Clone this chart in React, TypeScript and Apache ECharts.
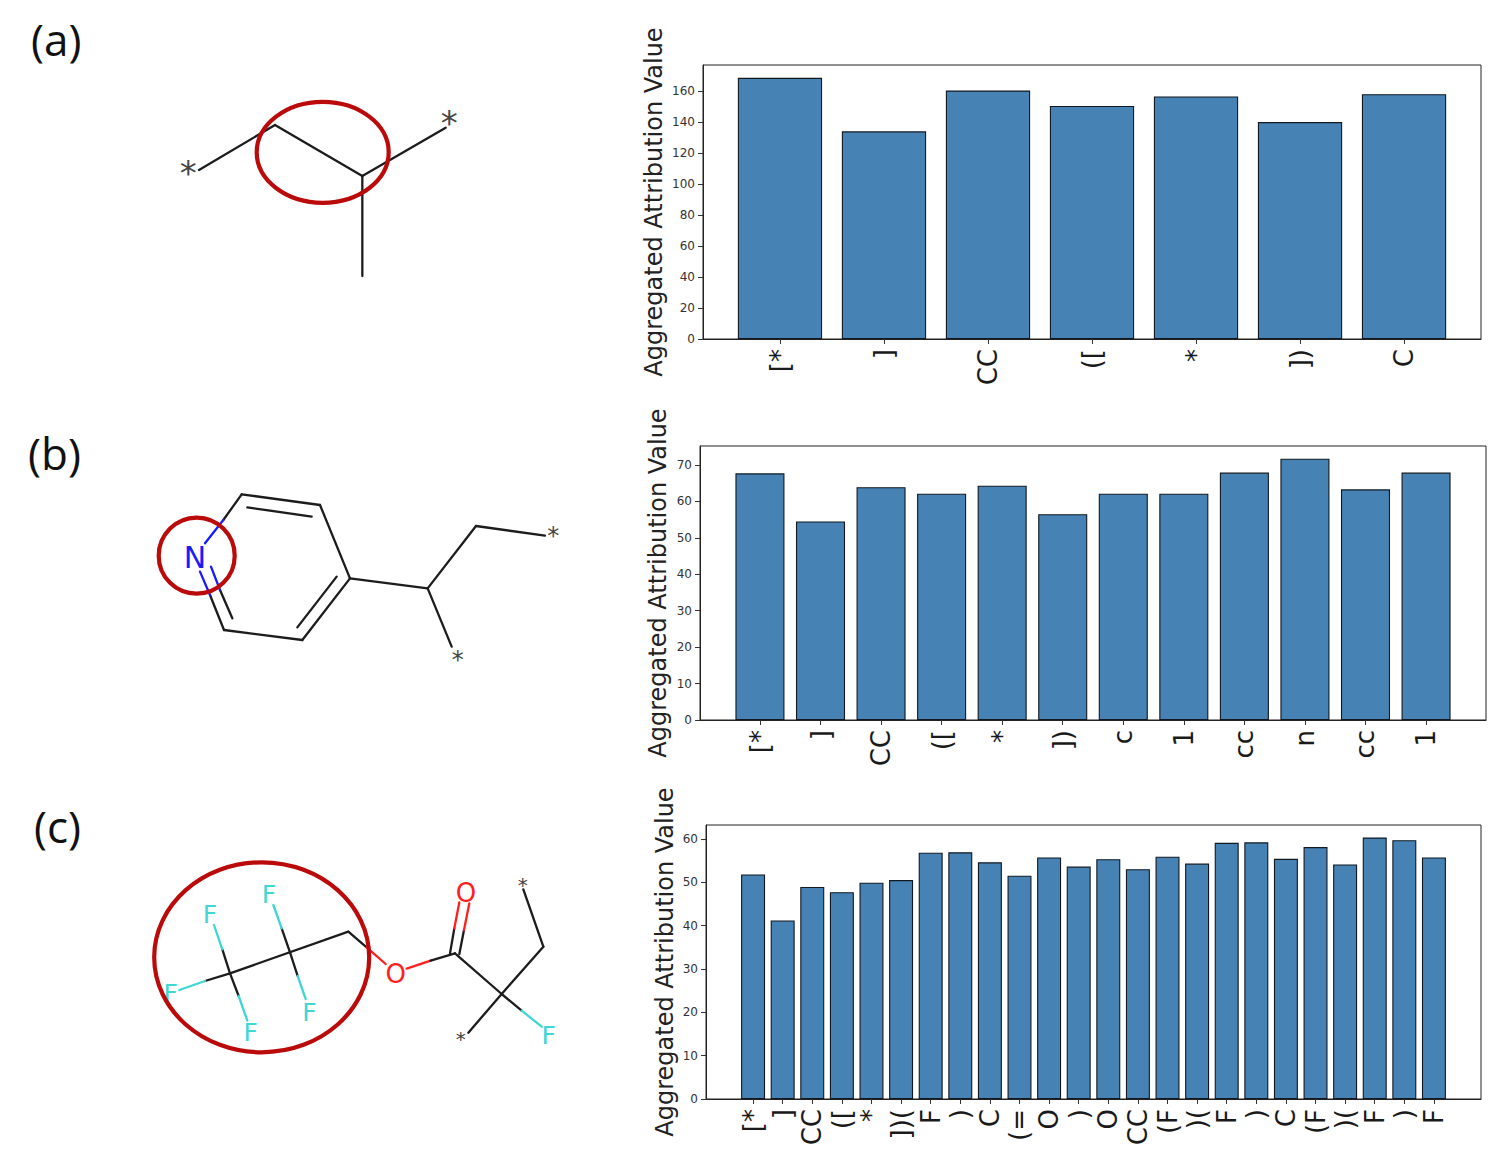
import React, { useEffect, useRef } from "react";
import * as echarts from "echarts";

const AXIS_TITLE = "Aggregated Attribution Value";

const categoriesA = ["[*", "]", "CC", "([", "*", "])", "C"];
const valuesA = [168.5, 134, 160.3, 150.4, 156.5, 140, 158];
const ticksA = [0, 20, 40, 60, 80, 100, 120, 140, 160];

const categoriesB = ["[*", "]", "CC", "([", "*", "])", "c", "1", "cc", "n", "cc", "1"];
const valuesB = [67.7, 54.5, 63.9, 62.1, 64.3, 56.5, 62.1, 62.1, 67.9, 71.7, 63.3, 67.9];
const ticksB = [0, 10, 20, 30, 40, 50, 60, 70];

const categoriesC = ["[*", "]", "CC", "([", "*", "])(", "F", ")", "C", "(=", "O", ")", "O", "CC", "(F", ")(", "F", ")", "C", "(F", ")(", "F", ")", "F"];
const valuesC = [51.8, 41.2, 48.9, 47.7, 49.9, 50.5, 56.8, 56.9, 54.6, 51.5, 55.7, 53.6, 55.3, 53, 55.9, 54.3, 59.1, 59.2, 55.4, 58.1, 54.1, 60.3, 59.7, 55.7];
const ticksC = [0, 10, 20, 30, 40, 50, 60];

const INK = "#1c1c1c";
const CYAN = "#3fd6d6";
const RED = "#ff1f1f";
const BLUE = "#1a1aff";
const RING = "#bb0a0a";
const STAR = "#444444";

type Bond = [number, number, number, number, string?];
type Atom = [string, number, number, string, number];

// Molecule drawings, in units of a third of a pixel from each drawing's corner
const bondsA: Bond[] = [
  [117, 240, 345, 105], [345, 105, 607, 258], [607, 258, 857, 113], [607, 258, 607, 558],
];
const atomsA: Atom[] = [["*", 85, 250, STAR, 34], ["*", 868, 100, STAR, 34]];

const bondsB: Bond[] = [
  [305, 73, 540, 105], [540, 105, 630, 325], [630, 325, 487, 510], [487, 510, 252, 480],
  [305, 73, 250, 150], [250, 150, 195, 220, BLUE],
  [322, 112, 515, 140], [590, 320, 472, 472],
  [252, 480, 210, 375], [210, 375, 180, 305, BLUE],
  [277, 445, 240, 360], [240, 360, 213, 290, BLUE],
  [630, 325, 863, 355], [863, 355, 1008, 168], [1008, 168, 1215, 197], [863, 355, 935, 530],
];
const atomsB: Atom[] = [
  ["N", 165, 262, BLUE, 30], ["*", 1240, 197, STAR, 24], ["*", 953, 570, STAR, 24],
];

const bondsC: Bond[] = [
  [625, 245, 270, 370],
  [270, 370, 195, 393], [195, 393, 118, 420, CYAN],
  [270, 370, 247, 298], [247, 298, 222, 225, CYAN],
  [270, 370, 296, 438], [296, 438, 322, 512, CYAN],
  [450, 307, 425, 235], [425, 235, 400, 165, CYAN],
  [450, 307, 473, 378], [473, 378, 497, 447, CYAN],
  [625, 245, 680, 292], [680, 292, 737, 342, RED],
  [800, 356, 872, 332, RED], [872, 332, 945, 310],
  [930, 310, 943, 235], [943, 235, 958, 157, RED],
  [958, 312, 972, 240], [972, 240, 988, 160, RED],
  [945, 310, 1085, 432], [1085, 432, 985, 548],
  [1085, 432, 1145, 482], [1145, 482, 1205, 530, CYAN],
  [1085, 432, 1210, 290], [1210, 290, 1150, 118],
];
const atomsC: Atom[] = [
  ["F", 92, 431, CYAN, 25], ["F", 210, 193, CYAN, 25], ["F", 332, 548, CYAN, 25],
  ["F", 387, 133, CYAN, 25], ["F", 508, 486, CYAN, 25], ["F", 1226, 555, CYAN, 25],
  ["O", 767, 372, RED, 26], ["O", 978, 129, RED, 26],
  ["*", 962, 568, STAR, 20], ["*", 1148, 104, STAR, 20],
];

function molecule(ox: number, oy: number, bonds: Bond[], atoms: Atom[]) {
  const out: any[] = [];
  for (const [x1, y1, x2, y2, color] of bonds) {
    out.push({
      type: "line",
      silent: true,
      shape: { x1: ox + x1 / 3, y1: oy + y1 / 3, x2: ox + x2 / 3, y2: oy + y2 / 3 },
      style: { stroke: color || INK, lineWidth: 2.3, lineCap: "round" },
    });
  }
  for (const [t, x, y, color, size] of atoms) {
    out.push({
      type: "text",
      silent: true,
      style: {
        text: t, x: ox + x / 3, y: oy + y / 3, fill: color,
        font: `${size}px "DejaVu Sans"`, align: "center", verticalAlign: "middle",
      },
    });
  }
  return out;
}

function ring(cx: number, cy: number, rx: number, ry: number) {
  return {
    type: "ellipse",
    silent: true,
    shape: { cx, cy, rx, ry },
    style: { fill: "transparent", stroke: RING, lineWidth: 4.2 },
  };
}

function panelLabel(text: string, x: number, y: number) {
  return {
    type: "text",
    silent: true,
    style: { text, x, y, fill: "#111", font: '44px "Open Sans"', align: "left", verticalAlign: "middle" },
  };
}

function axes(i: number, cats: string[], ticks: number[], xMin: number, xMax: number, yMax: number, nameGap: number) {
  const positions = cats.map((_, k) => k);
  const x = {
    gridIndex: i, type: "value", min: xMin, max: xMax,
    splitLine: { show: false },
    axisLine: { show: true, onZero: false, lineStyle: { color: "#222", width: 1 } },
    axisTick: { show: true, customValues: positions, length: 5, lineStyle: { color: "#333" } },
    axisLabel: {
      customValues: positions, rotate: 90, margin: 10, fontSize: 26, color: "#1a1a1a",
      fontFamily: "DejaVu Sans", hideOverlap: false, showMinLabel: true, showMaxLabel: true,
      formatter: (v: number) => cats[v],
    },
  };
  const y = {
    gridIndex: i, type: "value", min: 0, max: yMax,
    name: AXIS_TITLE, nameLocation: "middle", nameRotate: 90, nameGap, nameMoveOverlap: false,
    nameTextStyle: { fontSize: 24, color: "#222", fontFamily: "DejaVu Sans" },
    splitLine: { show: false },
    axisLine: { show: true, onZero: false, lineStyle: { color: "#222", width: 1 } },
    axisTick: { show: true, customValues: ticks, length: 5, lineStyle: { color: "#333" } },
    axisLabel: { customValues: ticks, margin: 8, fontSize: 12, color: "#333", fontFamily: "DejaVu Sans", showMinLabel: true, showMaxLabel: true },
  };
  return { x, y };
}

function bars(i: number, values: number[]) {
  return {
    type: "bar", xAxisIndex: i, yAxisIndex: i, barWidth: "81%",
    data: values.map((v, k) => [k, v]),
    itemStyle: { color: "#4682b4", borderColor: "#111820", borderWidth: 1.1 },
  };
}

export default function App() {
  const ref = useRef<HTMLDivElement>(null);
  useEffect(() => {
    document.body.style.margin = "0";
    const chart = echarts.init(ref.current!, null, { renderer: "svg" });
    const a = axes(0, categoriesA, ticksA, -0.74, 6.74, 176.8, 37);
    const b = axes(1, categoriesB, ticksB, -0.99, 11.99, 75.2, 30);
    const c = axes(2, categoriesC, ticksC, -1.59, 24.59, 63.2, 29);
    chart.setOption({
      animation: false,
      backgroundColor: "#fff",
      grid: [
        { left: 703, top: 65, width: 778, height: 274, show: true, borderColor: "#222", borderWidth: 1, backgroundColor: "#fff" },
        { left: 700, top: 446, width: 786, height: 274, show: true, borderColor: "#222", borderWidth: 1, backgroundColor: "#fff" },
        { left: 706, top: 825, width: 775, height: 274, show: true, borderColor: "#222", borderWidth: 1, backgroundColor: "#fff" },
      ],
      xAxis: [a.x, b.x, c.x],
      yAxis: [a.y, b.y, c.y],
      series: [bars(0, valuesA), bars(1, valuesB), bars(2, valuesC)],
      graphic: [
        panelLabel("(a)", 31, 39),
        panelLabel("(b)", 28, 453),
        panelLabel("(c)", 34, 826),
        ...molecule(160, 90, bondsA, atomsA),
        ring(322.7, 152.3, 66, 50.5),
        ...molecule(140, 470, bondsB, atomsB),
        ring(196.7, 555.7, 38, 38),
        ...molecule(140, 850, bondsC, atomsC),
        ring(261.7, 957.3, 107.5, 95),
      ],
    });
    return () => chart.dispose();
  }, []);
  return <div ref={ref} style={{ width: 1495, height: 1153 }} />;
}
